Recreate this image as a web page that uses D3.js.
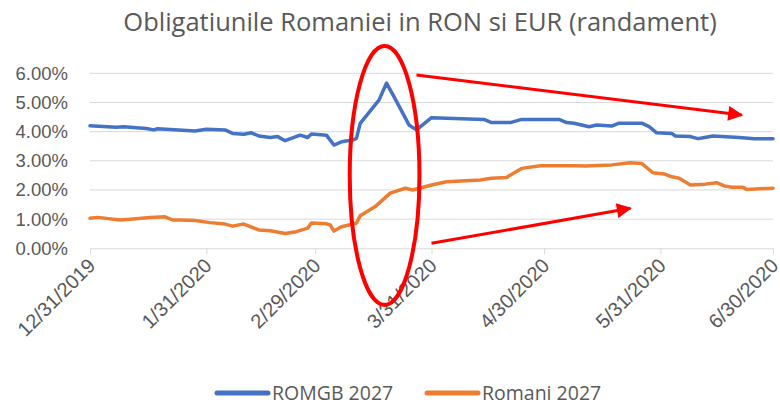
<!DOCTYPE html>
<html>
<head>
<meta charset="utf-8">
<script src="https://cdn.jsdelivr.net/npm/d3@7"></script>
<style>
  body { margin: 0; background: #fff; }
  svg { font-family: "Open Sans", sans-serif; }
  .axis text { fill: #595959; }
</style>
</head>
<body>
<div id="chart"></div>
<script>
// ROMGB 2027 (RON) yields, in %
var romgbDates = ["2019-12-31","2020-01-07","2020-01-09","2020-01-15","2020-01-17","2020-01-18","2020-01-28","2020-01-31",
  "2020-02-05","2020-02-07","2020-02-10","2020-02-12","2020-02-14","2020-02-17","2020-02-19","2020-02-21","2020-02-25",
  "2020-02-27","2020-02-28","2020-03-03","2020-03-04","2020-03-05","2020-03-07","2020-03-10","2020-03-11","2020-03-12",
  "2020-03-17","2020-03-19","2020-03-21","2020-03-25","2020-03-27","2020-03-31","2020-04-04","2020-04-14","2020-04-16",
  "2020-04-21","2020-04-24","2020-05-04","2020-05-06","2020-05-08","2020-05-12","2020-05-14","2020-05-18","2020-05-20",
  "2020-05-26","2020-05-28","2020-05-30","2020-06-03","2020-06-04","2020-06-08","2020-06-10","2020-06-11","2020-06-14",
  "2020-06-21","2020-06-25","2020-06-30"];
var romgbValues = [4.20,4.15,4.17,4.11,4.06,4.10,4.02,4.08,
  4.06,3.94,3.91,3.96,3.85,3.80,3.83,3.69,3.88,
  3.80,3.92,3.88,3.71,3.54,3.65,3.71,3.77,4.28,
  5.08,5.66,5.20,4.23,4.06,4.48,4.46,4.42,4.31,
  4.31,4.42,4.42,4.31,4.29,4.17,4.23,4.19,4.29,
  4.29,4.17,3.96,3.94,3.85,3.83,3.76,3.78,3.85,
  3.80,3.76,3.76];

// Romani 2027 (EUR) yields, in %
var romaniDates = ["2019-12-31","2020-01-02","2020-01-08","2020-01-10","2020-01-16","2020-01-20","2020-01-22","2020-01-24",
  "2020-01-28","2020-02-01","2020-02-05","2020-02-07","2020-02-10","2020-02-14","2020-02-17","2020-02-21","2020-02-24",
  "2020-02-27","2020-02-28","2020-03-03","2020-03-04","2020-03-05","2020-03-07","2020-03-11","2020-03-12","2020-03-16",
  "2020-03-20","2020-03-24","2020-03-26","2020-03-31","2020-04-04","2020-04-13","2020-04-16","2020-04-20","2020-04-24",
  "2020-04-29","2020-05-08","2020-05-11","2020-05-18","2020-05-23","2020-05-26","2020-05-29","2020-06-01","2020-06-03",
  "2020-06-05","2020-06-08","2020-06-12","2020-06-15","2020-06-17","2020-06-19","2020-06-22","2020-06-23","2020-06-30"];
var romaniValues = [1.03,1.06,0.97,0.99,1.06,1.08,0.97,0.97,
  0.95,0.88,0.83,0.76,0.83,0.63,0.60,0.51,0.57,
  0.69,0.87,0.84,0.80,0.59,0.74,0.86,1.12,1.43,
  1.89,2.06,2.00,2.17,2.28,2.34,2.40,2.43,2.74,
  2.83,2.83,2.82,2.86,2.93,2.91,2.59,2.55,2.45,
  2.40,2.17,2.20,2.25,2.14,2.09,2.09,2.02,2.06];

var tickDates = ["2019-12-31","2020-01-31","2020-02-29","2020-03-31","2020-04-30","2020-05-31","2020-06-30"];
var yTicks = [0, 1, 2, 3, 4, 5, 6];
var seriesNames = ["ROMGB 2027", "Romani 2027"];
var seriesColors = ["#4472C4", "#ED7D31"];

// red annotations (date, value in %)
var circleMark = { date: "2020-03-18T12:00", value: 2.5, radiusDays: 9.3, radiusValue: 4.44 };
var arrowMarks = [
  { from: ["2020-03-27", 5.94], to: ["2020-06-21T16:00", 4.57] },
  { from: ["2020-03-31", 0.17], to: ["2020-05-23", 1.37] }
];

var parse = d3.isoParse;
var width = 780, height = 405;
var margin = { top: 73.3, right: 7, bottom: 156.7, left: 90 };

var svg = d3.select("#chart").append("svg")
  .attr("width", width)
  .attr("height", height);

var x = d3.scaleTime()
  .domain([parse(tickDates[0]), parse(tickDates[tickDates.length - 1])])
  .range([margin.left, width - margin.right]);

var y = d3.scaleLinear()
  .domain([0, 6])
  .range([height - margin.bottom, margin.top]);

// title
svg.append("text")
  .attr("x", 420)
  .attr("y", 31)
  .attr("text-anchor", "middle")
  .style("font-size", "25.5px")
  .style("fill", "#595959")
  .text("Obligatiunile Romaniei in RON si EUR (randament)");

// gridlines
svg.append("g")
  .selectAll("line")
  .data(yTicks.slice(1))
  .enter().append("line")
  .attr("x1", x.range()[0])
  .attr("x2", x.range()[1])
  .attr("y1", function (d) { return y(d); })
  .attr("y2", function (d) { return y(d); })
  .style("stroke", "#d9d9d9")
  .style("stroke-width", 1);

// y axis
var yAxis = d3.axisLeft(y)
  .tickValues(yTicks)
  .tickSize(0)
  .tickPadding(22)
  .tickFormat(function (d) { return d.toFixed(2) + "%"; });

svg.append("g")
  .attr("class", "y axis")
  .attr("transform", "translate(" + margin.left + ",0)")
  .call(yAxis)
  .call(function (g) { g.select(".domain").remove(); })
  .selectAll("text")
  .style("font-size", "18.5px");

// x axis
var fmt = d3.timeFormat("%-m/%-d/%Y");
var xAxis = d3.axisBottom(x)
  .tickValues(tickDates.map(parse))
  .tickSize(6)
  .tickSizeOuter(0)
  .tickFormat(fmt);

var gx = svg.append("g")
  .attr("class", "x axis")
  .attr("transform", "translate(0," + y(0) + ")")
  .call(xAxis);

gx.select(".domain").style("stroke", "#d9d9d9");
gx.selectAll(".tick line").style("stroke", "#d9d9d9");
gx.selectAll("text")
  .style("font-size", "20px")
  .style("text-anchor", "end")
  .attr("y", 9)
  .attr("dx", "-0.44em")
  .attr("dy", "0.42em")
  .attr("transform", "rotate(-45)");

// lines
var line = d3.line()
  .x(function (d) { return x(d.date); })
  .y(function (d) { return y(d.value); });

var series = [
  romgbDates.map(function (d, i) { return { date: parse(d), value: romgbValues[i] }; }),
  romaniDates.map(function (d, i) { return { date: parse(d), value: romaniValues[i] }; })
];

svg.append("g")
  .selectAll("path")
  .data(series)
  .enter().append("path")
  .attr("d", line)
  .style("fill", "none")
  .style("stroke", function (d, i) { return seriesColors[i]; })
  .style("stroke-width", 3.5)
  .style("stroke-linejoin", "round")
  .style("stroke-linecap", "round");

// annotations
var cx = x(parse(circleMark.date)), cy = y(circleMark.value);
svg.append("ellipse")
  .attr("cx", cx)
  .attr("cy", cy)
  .attr("rx", x(d3.timeHour.offset(parse(circleMark.date), circleMark.radiusDays * 24)) - cx)
  .attr("ry", y(0) - y(circleMark.radiusValue))
  .style("fill", "none")
  .style("stroke", "#FF0000")
  .style("stroke-width", 4);

svg.append("defs").append("marker")
  .attr("id", "arrow")
  .attr("viewBox", "0 0 10 10")
  .attr("refX", 9)
  .attr("refY", 5)
  .attr("markerUnits", "userSpaceOnUse")
  .attr("markerWidth", 18)
  .attr("markerHeight", 15)
  .attr("orient", "auto")
  .append("path")
  .attr("d", "M0,0L10,5L0,10Z")
  .style("fill", "#FF0000");

svg.append("g")
  .selectAll("line")
  .data(arrowMarks)
  .enter().append("line")
  .attr("x1", function (d) { return x(parse(d.from[0])); })
  .attr("y1", function (d) { return y(d.from[1]); })
  .attr("x2", function (d) { return x(parse(d.to[0])); })
  .attr("y2", function (d) { return y(d.to[1]); })
  .style("stroke", "#FF0000")
  .style("stroke-width", 3)
  .attr("marker-end", "url(#arrow)");

// legend
var legend = svg.selectAll(".legend")
  .data(seriesNames)
  .enter().append("g")
  .attr("class", "legend")
  .attr("transform", function (d, i) { return "translate(" + (217 + i * 210) + ",393)"; });

legend.append("line")
  .attr("x1", 0)
  .attr("x2", 51)
  .style("stroke", function (d, i) { return seriesColors[i]; })
  .style("stroke-width", 5)
  .style("stroke-linecap", "round");

legend.append("text")
  .attr("x", 55)
  .attr("dy", "0.35em")
  .style("font-size", "19.5px")
  .style("fill", "#595959")
  .text(function (d) { return d; });
</script>
</body>
</html>
